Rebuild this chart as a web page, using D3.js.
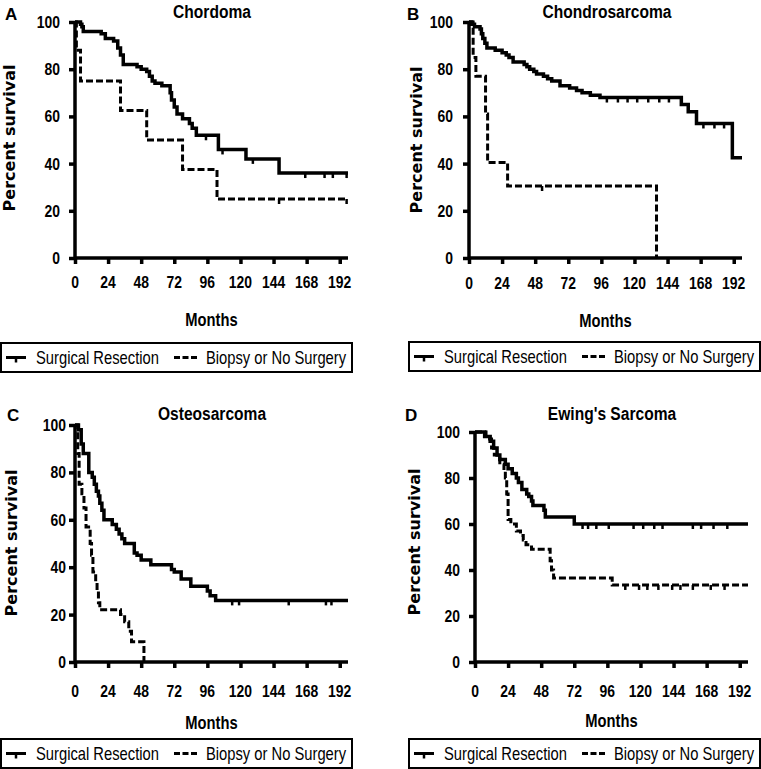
<!DOCTYPE html>
<html><head><meta charset="utf-8">
<script src="https://cdn.jsdelivr.net/npm/d3@7"></script>
<style>body{margin:0;background:#fff}svg{display:block}</style>
</head><body>
<svg id="c" width="761" height="769"></svg>
<script>
// ---------- data ----------
const xTicks = [0, 24, 48, 72, 96, 120, 144, 168, 192];
const yTicks = [0, 20, 40, 60, 80, 100];
const seriesNames = ["Surgical Resection", "Biopsy or No Surgery"];
const panelTitles = ["Chordoma", "Chondrosarcoma", "Osteosarcoma", "Ewing's Sarcoma"];
const panelLetters = ["A", "B", "C", "D"];
const xLabel = "Months";
const yLabel = "Percent survival";

const chordomaSurgery = [[0,100],[4,99],[5,98],[6,96],[19,95],[22,93],[28,92],[31,89],[33,86],[35,82],[45,81],[48,80],[52,79],[54,77],[56,75],[58,74],[63,73],[69,70],[70,67],[72,64],[74,61],[78,59],[83,57],[85,55],[88,52],[104,46],[124,42],[148,36],[198,36]];
const chordomaBiopsy = [[0,100],[1,88],[4,75],[33,62.5],[52,50],[78,37.5],[103,25],[198,25]];
const chordomaSurgeryCens = [95,107,129,167,181,187,197];
const chordomaBiopsyCens = [148,197];

const chondroSurgery = [[0,100],[2,99],[4,98],[8,97],[9,95],[10,93],[11.5,91],[13,89],[19,88],[24,87],[27,86],[29,85],[32,83],[40,82],[42,81],[44,80],[47,79],[49,78],[54,77],[57,76],[60,75],[66,73],[73,72],[78,71],[82,70],[88,69],[95,68],[154,65],[159,62],[165,57],[191,42.5],[198,42.5]];
const chondroBiopsy = [[0,100],[3,85],[5,77],[12,61],[13.5,40.5],[28,30.5],[136,0]];
const chondroSurgeryCens = [100,108,115,122,130,138,145,170,178,185];
const chondroBiopsyCens = [53];

const osteoSurgery = [[0,100],[2.5,98],[4.5,92],[6,88],[10,80],[12.5,78],[14,75],[15.5,72],[17,70],[18,67],[19.5,64],[21,60],[27,58],[30,56],[32,54],[34,52],[36,50],[43,46],[45,45],[48,43],[55,41],[70,39],[72,38],[77,35],[84,32],[96,30],[98,28],[102,26],[198,26]];
const osteoBiopsy = [[0,100],[2,88],[3,75],[5,71],[6.5,65],[8,57],[11,50],[12,45],[13,38],[15,34],[16,30],[17,25],[18,22],[33,20],[36,17],[39,13],[41,8.5],[50,0]];
const osteoSurgeryCens = [114,119,155,182,186];
const osteoBiopsyCens = [];

const ewingSurgery = [[0,100],[7,98],[11,96],[13.5,93],[16,90],[18,88],[22,86],[24,84],[27,82],[30,80],[31.5,78],[34,75],[37.5,73],[39,72],[41,70],[42,68],[50,66],[51,63],[72,60],[198,60]];
const ewingBiopsy = [[0,100],[8,97],[12,93],[14,90],[18,86],[21,83],[22,80],[23,73],[24,62],[26,60],[30,57],[33,55],[35,53],[37,51],[41,49],[54.5,44],[55.5,40],[57,36.5],[99.5,33.5],[198,33.5]];
const ewingSurgeryCens = [78,82,88,97,115,122,130,136,158,164,173,183];
const ewingBiopsyCens = [109,119,125,133,143,149,158,171,181];

const panelSeries = [
  [chordomaSurgery, chordomaBiopsy, chordomaSurgeryCens, chordomaBiopsyCens],
  [chondroSurgery, chondroBiopsy, chondroSurgeryCens, chondroBiopsyCens],
  [osteoSurgery, osteoBiopsy, osteoSurgeryCens, osteoBiopsyCens],
  [ewingSurgery, ewingBiopsy, ewingSurgeryCens, ewingBiopsyCens]
];

// ---------- layout ----------
const layout = [
  {xr:[75,348], yr:[258,22], tickY:282, monthsY:319, titleX:212, titleY:11, letter:[5,14], ylab:[9,138], yOff:15, legend:[1,343,351,29]},
  {xr:[469,742], yr:[258,22], tickY:283, monthsY:320, titleX:607, titleY:11, letter:[407,14], ylab:[416,140], yOff:16, legend:[409,342,351,29]},
  {xr:[75,348], yr:[662,425], tickY:691, monthsY:722, titleX:212, titleY:413, letter:[7,415], ylab:[11,543], yOff:9, legend:[1,739,351,29]},
  {xr:[475,748], yr:[662,432], tickY:691, monthsY:720, titleX:612, titleY:413, letter:[405,415], ylab:[414,542], yOff:15, legend:[409,739,351,29]}
];

const svg = d3.select("#c");
const arial = "'Liberation Sans',Arial,sans-serif";
const SX = 0.82; // horizontal condensing to mimic Arial Narrow
const dash = "7,3";

function narrowText(sel, x, y, size, bold, anchor) {
  sel.attr("transform", `translate(${x},${y}) scale(${SX},1)`)
    .attr("text-anchor", anchor).attr("dominant-baseline", "central")
    .style("font-family", arial).style("font-weight", bold ? "bold" : "normal")
    .style("font-size", size + "px");
  return sel;
}

panelSeries.forEach((ps, i) => {
  const L = layout[i];
  const x = d3.scaleLinear().domain([0,198]).range(L.xr);
  const y = d3.scaleLinear().domain([0,100]).range(L.yr);
  const g = svg.append("g");

  // axes
  const xa = g.append("g").attr("transform", `translate(0,${y(0)})`)
    .call(d3.axisBottom(x).tickValues(xTicks).tickSize(6).tickFormat(""));
  xa.select(".domain").attr("d", `M${x(0)},0H${x(198)}`);
  xa.selectAll("path,line").attr("stroke","#000").attr("stroke-width",3.5);
  const ya = g.append("g").attr("transform", `translate(${x(0)},0)`)
    .call(d3.axisLeft(y).tickValues(yTicks).tickSize(6).tickFormat(""));
  ya.select(".domain").attr("d", `M0,${y(0)+1.5}V${y(100)}`);
  ya.selectAll("path,line").attr("stroke","#000").attr("stroke-width",3.5);

  // tick labels
  g.selectAll(".xt").data(xTicks).join("text").attr("class","xt")
    .each(function(d){ narrowText(d3.select(this), x(d), L.tickY, 17, true, "middle"); })
    .text(d => d);
  g.selectAll(".yt").data(yTicks).join("text").attr("class","yt")
    .each(function(d){ narrowText(d3.select(this), x(0) - L.yOff, y(d), 17, true, "end"); })
    .text(d => d);

  // curves
  const line = d3.line().x(d => x(d[0])).y(d => y(d[1])).curve(d3.curveStepAfter);
  g.append("path").datum(ps[1]).attr("d", line).attr("fill","none")
    .attr("stroke","#000").attr("stroke-width",3).attr("stroke-dasharray", dash);
  g.append("path").datum(ps[0]).attr("d", line).attr("fill","none")
    .attr("stroke","#000").attr("stroke-width",3.5);

  // censor marks
  const valAt = (s, t) => { let v = s[0][1]; for (const p of s) { if (p[0] <= t) v = p[1]; } return v; };
  [[ps[0], ps[2]], [ps[1], ps[3]]].forEach(([s, cens]) => {
    g.selectAll(null).data(cens).join("line")
      .attr("x1", d => x(d)).attr("x2", d => x(d))
      .attr("y1", d => y(valAt(s, d))).attr("y2", d => y(valAt(s, d)) + 5)
      .attr("stroke","#000").attr("stroke-width",2.5);
  });

  // title, letter, labels
  narrowText(g.append("text"), L.titleX, L.titleY, 19, true, "middle").text(panelTitles[i]);
  g.append("text").attr("x", L.letter[0]).attr("y", L.letter[1])
    .attr("dominant-baseline","central")
    .style("font-family", arial).style("font-weight","bold").style("font-size","17px")
    .text(panelLetters[i]);
  g.append("text").attr("transform", `translate(${L.ylab[0]},${L.ylab[1]}) rotate(-90)`)
    .attr("text-anchor","middle").attr("dominant-baseline","central")
    .style("font-family","'DejaVu Sans',Verdana,sans-serif").style("font-weight","bold").style("font-size","16px")
    .text(yLabel);
  narrowText(g.append("text"), (L.xr[0] + L.xr[1]) / 2 - 0, L.monthsY, 18, true, "middle").text(xLabel);

  // legend
  const [lx, ly, lw, lh] = L.legend;
  const lg = g.append("g").attr("transform", `translate(${lx},${ly})`);
  lg.append("rect").attr("width", lw).attr("height", lh).attr("fill","none")
    .attr("stroke","#000").attr("stroke-width",2);
  const my = lh / 2;
  lg.append("line").attr("x1",5).attr("x2",25).attr("y1",my).attr("y2",my)
    .attr("stroke","#000").attr("stroke-width",3);
  lg.append("line").attr("x1",15).attr("x2",15).attr("y1",my).attr("y2",my+5)
    .attr("stroke","#000").attr("stroke-width",2.5);
  lg.append("line").attr("x1",173).attr("x2",196).attr("y1",my).attr("y2",my)
    .attr("stroke","#000").attr("stroke-width",3).attr("stroke-dasharray","6,2.5");
  narrowText(lg.append("text"), 35, my, 18, false, "start").text(seriesNames[0]);
  narrowText(lg.append("text"), 205, my, 18, false, "start").text(seriesNames[1]);
});
</script>
</body></html>
